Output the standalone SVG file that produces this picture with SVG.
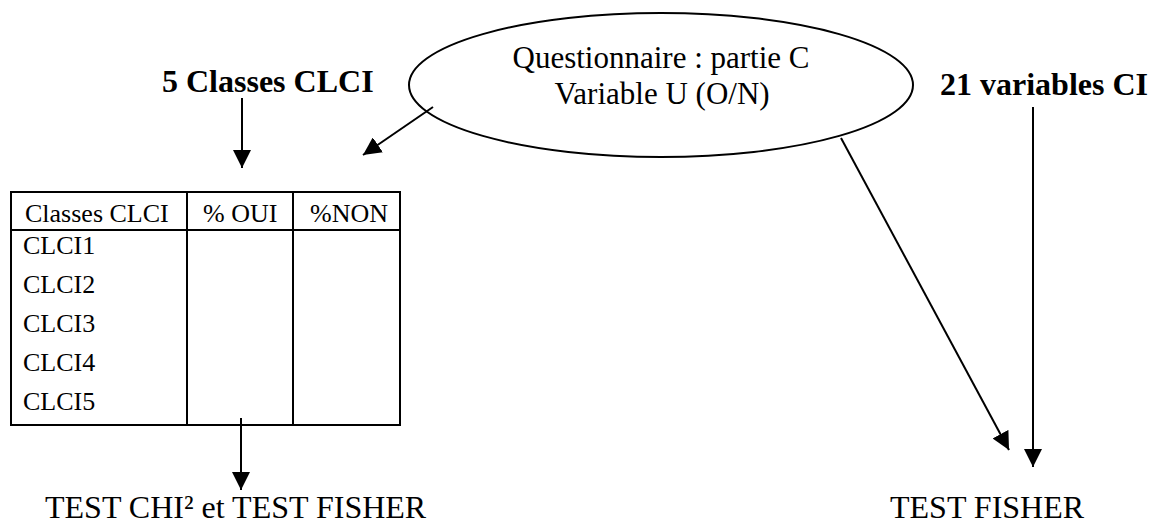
<svg xmlns="http://www.w3.org/2000/svg" width="1156" height="523" viewBox="0 0 1156 523">
<style>
  .t{font-family:"Liberation Serif","Times New Roman",serif;fill:#000}
  .b{font-weight:bold;font-size:32px}
  .big{font-size:31px}
  .tst{font-size:32px}
  .cell{font-size:26px}
  .ln{stroke:#000;stroke-width:2;fill:none}
</style>
<defs>
  <marker id="ah" markerUnits="userSpaceOnUse" markerWidth="18" markerHeight="18" viewBox="0 0 16 16" refX="16" refY="8" orient="auto">
    <path d="M0,0 L16,8 L0,16 Z" fill="#000"/>
  </marker>
</defs>
<rect width="1156" height="523" fill="#fff"/>
<g id="label-classes"><text class="t b" x="162" y="92">5 Classes CLCI</text></g>
<g id="label-variables"><text class="t b" x="940" y="95">21 variables CI</text></g>
<g id="questionnaire">
  <ellipse class="ln" cx="661" cy="85" rx="252" ry="72"/>
  <text class="t big" x="661" y="68" text-anchor="middle">Questionnaire : partie C</text>
  <text class="t big" x="662" y="104" text-anchor="middle">Variable U (O/N)</text>
</g>
<g id="table">
  <rect class="ln" x="11" y="192" width="389" height="233"/>
  <line class="ln" x1="11" y1="230" x2="400" y2="230"/>
  <line class="ln" x1="187" y1="192" x2="187" y2="425"/>
  <line class="ln" x1="293" y1="192" x2="293" y2="425"/>
  <text class="t cell" x="25" y="222">Classes CLCI</text>
  <text class="t cell" x="203" y="222">% OUI</text>
  <text class="t cell" x="310" y="222">%NON</text>
  <text class="t cell" x="23" y="254">CLCI1</text>
  <text class="t cell" x="23" y="293">CLCI2</text>
  <text class="t cell" x="23" y="332">CLCI3</text>
  <text class="t cell" x="23" y="371">CLCI4</text>
  <text class="t cell" x="23" y="410">CLCI5</text>
</g>
<g id="test-chi"><text class="t tst" x="45" y="518">TEST CHI² et TEST FISHER</text></g>
<g id="test-fisher"><text class="t tst" x="890" y="518">TEST FISHER</text></g>
<g id="connectors">
  <line class="ln" x1="242" y1="98" x2="242" y2="168" marker-end="url(#ah)"/>
  <line class="ln" x1="433" y1="107" x2="363" y2="155" marker-end="url(#ah)"/>
  <line class="ln" x1="241" y1="418" x2="241" y2="490" marker-end="url(#ah)"/>
  <line class="ln" x1="841" y1="138" x2="1009" y2="450" marker-end="url(#ah)"/>
  <line class="ln" x1="1033" y1="107" x2="1033" y2="467" marker-end="url(#ah)"/>
</g>
</svg>
